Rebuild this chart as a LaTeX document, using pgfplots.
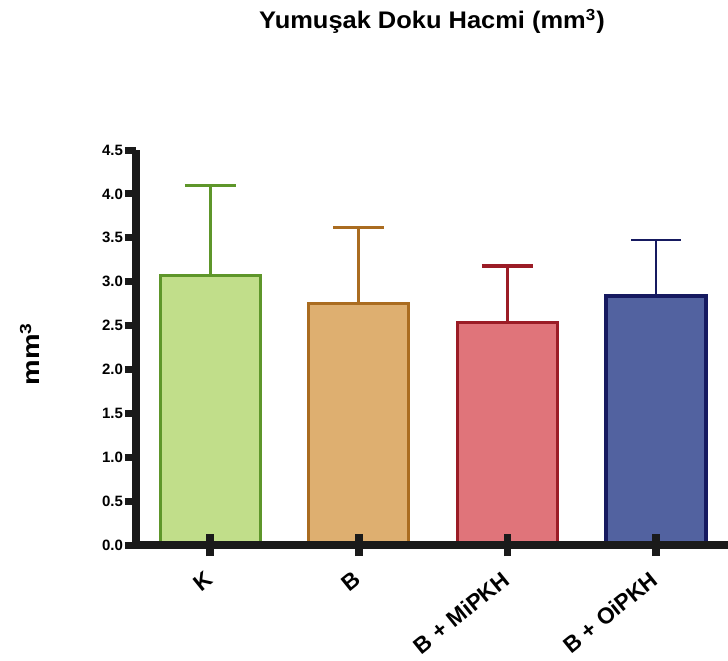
\documentclass[border=0pt]{standalone}
\usepackage{graphicx}
\usepackage{pgfplots}
\pgfplotsset{compat=1.18}
\usepackage{fontspec}
\setmainfont{Liberation Sans}
\definecolor{kfill}{HTML}{C1DE8A}
\definecolor{kedge}{HTML}{5E962A}
\definecolor{bfill}{HTML}{DEAF70}
\definecolor{bedge}{HTML}{AA6C20}
\definecolor{mfill}{HTML}{E0747A}
\definecolor{medge}{HTML}{9B1C26}
\definecolor{ofill}{HTML}{5262A0}
\definecolor{oedge}{HTML}{161A60}
\definecolor{axblack}{HTML}{1A1A1A}
\begin{document}
\begin{tikzpicture}
\path[use as bounding box] (0,0) rectangle (364pt,330pt);
\begin{axis}[
  at={(68pt,57.5pt)}, anchor=south west,
  scale only axis, width=296pt, height=197.5pt,
  xmin=-0.5, xmax=3.484, ymin=0, ymax=4.5,
  axis x line=bottom, axis y line=left,
  axis line style={-, line width=3.75pt, color=axblack},
  axis on top,
  xtick={0,1,2,3},
  xticklabels={K, B, B + MiPKH, B + OiPKH},
  ytick={0,0.5,1,1.5,2,2.5,3,3.5,4,4.5},
  minor ytick={0,0.5,1,1.5,2,2.5,3,3.5,4,4.5},
  xtick align=center, ytick align=outside,
  major tick length=11pt, minor tick length=5.5pt,
  major x tick style={line width=3.8pt, color=axblack},
  major y tick style={draw=none},
  minor y tick style={line width=3.5pt, color=axblack},
  yticklabel style={font=\bfseries\fontsize{7.5}{8}\selectfont, xshift=8pt},
  xticklabel style={rotate=39, anchor=east, font=\bfseries\fontsize{11.3}{13}\selectfont, yshift=-7.5pt, xshift=-3.5pt},
  /pgf/number format/.cd, fixed, fixed zerofill, precision=1, assume math mode=true,
]
\addplot[ybar, bar width=0.673, bar shift=0pt, fill=kfill, draw=kedge, line width=1.6pt,
  error bars/.cd, y dir=plus, y explicit, error mark=|,
  error bar style={line width=1.5pt, color=kedge},
  error mark options={mark size=12.75pt, line width=1.5pt, color=kedge}]
  coordinates {(0,3.07) +- (0,1.02)};
\addplot[ybar, bar width=0.673, bar shift=0pt, fill=bfill, draw=bedge, line width=1.6pt,
  error bars/.cd, y dir=plus, y explicit, error mark=|,
  error bar style={line width=1.5pt, color=bedge},
  error mark options={mark size=12.75pt, line width=1.5pt, color=bedge}]
  coordinates {(1,2.755) +- (0,0.865)};
\addplot[ybar, bar width=0.673, bar shift=0pt, fill=mfill, draw=medge, line width=1.6pt,
  error bars/.cd, y dir=plus, y explicit, error mark=|,
  error bar style={line width=1.5pt, color=medge},
  error mark options={mark size=12.75pt, line width=1.8pt, color=medge}]
  coordinates {(2,2.533) +- (0,0.647)};
\addplot[ybar, bar width=0.673, bar shift=0pt, fill=ofill, draw=oedge, line width=1.7pt,
  error bars/.cd, y dir=plus, y explicit, error mark=|,
  error bar style={line width=1pt, color=oedge},
  error mark options={mark size=12.5pt, line width=1pt, color=oedge}]
  coordinates {(3,2.837) +- (0,0.643)};
\end{axis}
\node[anchor=base, font=\bfseries\fontsize{12}{14}\selectfont] at (216pt,315.5pt)
  {\scalebox{1.06}[1]{Yumuşak Doku Hacmi (mm\textsuperscript{3})}};
\node[rotate=90, font=\bfseries\fontsize{12}{14}\selectfont] at (15pt,153pt)
  {\scalebox{1.2}[1]{mm\textsuperscript{3}}};
\end{tikzpicture}
\end{document}
